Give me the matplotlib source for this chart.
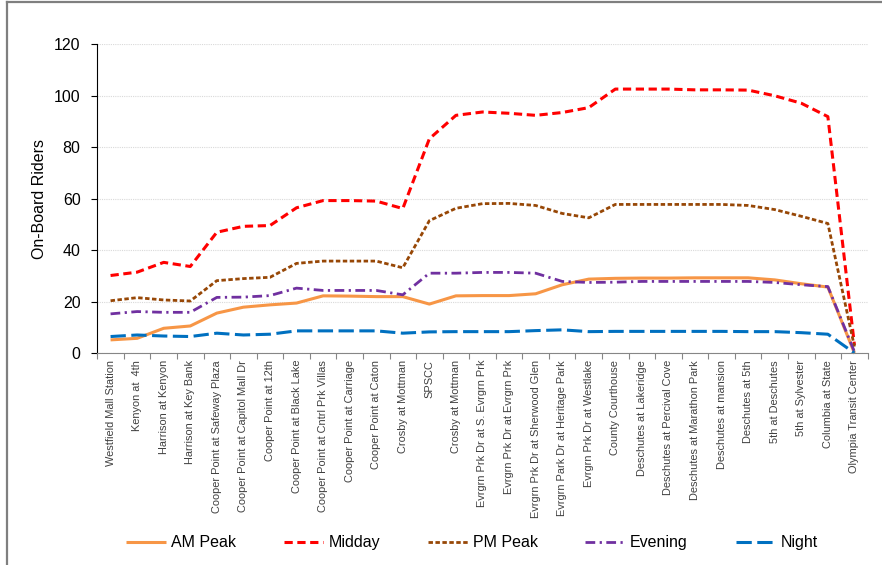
import matplotlib
matplotlib.use('Agg')
import matplotlib.pyplot as plt
from matplotlib.lines import Line2D
from matplotlib.font_manager import findfont, FontProperties
import numpy as np

plt.rcParams['font.family'] = ['Liberation Sans', 'DejaVu Sans']

# 站点（x 轴类别）
stops = [
    'Westfield Mall Station', 'Kenyon at  4th', 'Harrison at Kenyon', 'Harrison at Key Bank',
    'Cooper Point at Safeway Plaza', 'Cooper Point at Capitol Mall Dr', 'Cooper Point at 12th',
    'Cooper Point at Black Lake', 'Cooper Point at Cntrl Prk Villas', 'Cooper Point at Carriage',
    'Cooper Point at Caton', 'Crosby at Mottman', 'SPSCC', 'Crosby at Mottman',
    'Evrgrn Prk Dr at S. Evrgrn Prk', 'Evrgrn Prk Dr at Evrgrn Prk', 'Evrgrn Prk Dr at Sherwood Glen',
    'Evrgrn Park Dr at Heritage Park', 'Evrgrn Prk Dr at Westlake', 'County Courthouse',
    'Deschutes at Lakeridge', 'Deschutes at Percival Cove', 'Deschutes at Marathon Park',
    'Deschutes at mansion', 'Deschutes at 5th', '5th at Deschutes', '5th at Sylvester',
    'Columbia at State', 'Olympia Transit Center',
]

am_peak = [5.1, 5.7, 9.6, 10.5, 15.5, 17.8, 18.7, 19.4, 22.2, 22.1, 21.9, 21.9, 19.0, 22.2, 22.3,
           22.3, 23.0, 26.5, 28.7, 29.0, 29.1, 29.1, 29.2, 29.2, 29.2, 28.4, 26.9, 25.6, 0.0]
midday = [30.1, 31.4, 35.2, 33.6, 46.9, 49.2, 49.5, 56.4, 59.2, 59.2, 59.0, 56.1, 83.2, 92.3, 93.6,
          93.1, 92.3, 93.4, 95.3, 102.5, 102.5, 102.5, 102.2, 102.2, 102.1, 99.9, 97.0, 91.8, 3.1]
pm_peak = [20.3, 21.5, 20.6, 20.2, 28.1, 28.9, 29.4, 34.8, 35.7, 35.7, 35.7, 33.1, 51.4, 56.2, 58.0,
           58.1, 57.3, 54.2, 52.5, 57.7, 57.7, 57.7, 57.7, 57.7, 57.3, 55.7, 53.1, 50.3, 2.5]
evening = [15.2, 16.1, 15.8, 15.8, 21.6, 21.7, 22.3, 25.2, 24.3, 24.3, 24.3, 22.6, 31.0, 31.0, 31.3,
           31.3, 31.0, 27.8, 27.4, 27.5, 27.8, 27.8, 27.8, 27.8, 27.8, 27.4, 26.5, 25.8, 0.5]
night = [6.4, 7.0, 6.6, 6.4, 7.7, 7.0, 7.3, 8.6, 8.6, 8.6, 8.6, 7.7, 8.2, 8.3, 8.3,
         8.3, 8.7, 9.0, 8.3, 8.4, 8.4, 8.4, 8.4, 8.4, 8.3, 8.3, 7.9, 7.3, 0.0]

series = [
    ('AM Peak', am_peak, '#F79646', '-', 2.2),
    ('Midday', midday, '#FF0000', (0, (2.7, 1.5)), 2.2),
    ('PM Peak', pm_peak, '#974706', (0, (1.6, 0.9)), 2.0),
    ('Evening', evening, '#7030A0', (0, (3.5, 1.6, 0.8, 1.6)), 2.0),
    ('Night', night, '#0070C0', (0, (5, 1.8)), 2.2),
]

# 窄体字优先
narrow = 'Liberation Sans Narrow'
try:
    findfont(FontProperties(family=narrow), fallback_to_default=False)
    xfont = dict(family=[narrow, 'Liberation Sans'], size=8.8)
except Exception:
    xfont = dict(family=['Liberation Sans'], size=7.9)

fig = plt.figure(figsize=(8.82, 5.65), dpi=100)
ax = fig.add_axes([0.1103, 0.3752, 0.8735, 0.5469])

x = np.arange(len(stops))
for name, vals, color, ls, lw in series:
    ax.plot(x, vals, color=color, linestyle=ls, linewidth=lw, label=name, clip_on=False,
            solid_capstyle='butt', dash_capstyle='butt')

ax.set_xlim(-0.5, len(stops) - 0.5)
ax.set_ylim(0, 120)
ax.set_yticks(range(0, 121, 20))
ax.tick_params(axis='y', labelsize=11.5, length=4, width=0.8, pad=8, colors='black')
ax.grid(axis='y', color='#d9d9d9', linestyle=(0, (1, 1)), linewidth=0.8)
ax.set_axisbelow(True)

ax.set_xticks(x)
ax.set_xticklabels(stops, rotation=90, color='#404040', **xfont)
ax.tick_params(axis='x', which='major', length=0, pad=5)
ax.set_xticks(np.arange(-0.5, len(stops), 1), minor=True)
ax.tick_params(axis='x', which='minor', length=4, width=0.8, color='#868686')

ax.set_ylabel('On-Board Riders', fontsize=11.5, labelpad=5)

ax.spines['top'].set_visible(False)
ax.spines['right'].set_visible(False)
ax.spines['left'].set_color('#000000')
ax.spines['left'].set_linewidth(0.8)
ax.spines['bottom'].set_color('#868686')
ax.spines['bottom'].set_linewidth(0.8)

fig.legend(loc='center', bbox_to_anchor=(0.535, 0.039), ncol=5, frameon=False,
           fontsize=11.5, handlelength=2.5, handletextpad=0.3, columnspacing=3.0)

# 外框（原图被裁切的边框）
fig.add_artist(Line2D([0.0085, 0.0085], [0, 0.996], transform=fig.transFigure,
                      color='#7f7f7f', linewidth=1.6))
fig.add_artist(Line2D([0.0085, 1.0], [0.996, 0.996], transform=fig.transFigure,
                      color='#7f7f7f', linewidth=1.6))

fig.savefig('out.png', dpi=100)
plt.close(fig)
